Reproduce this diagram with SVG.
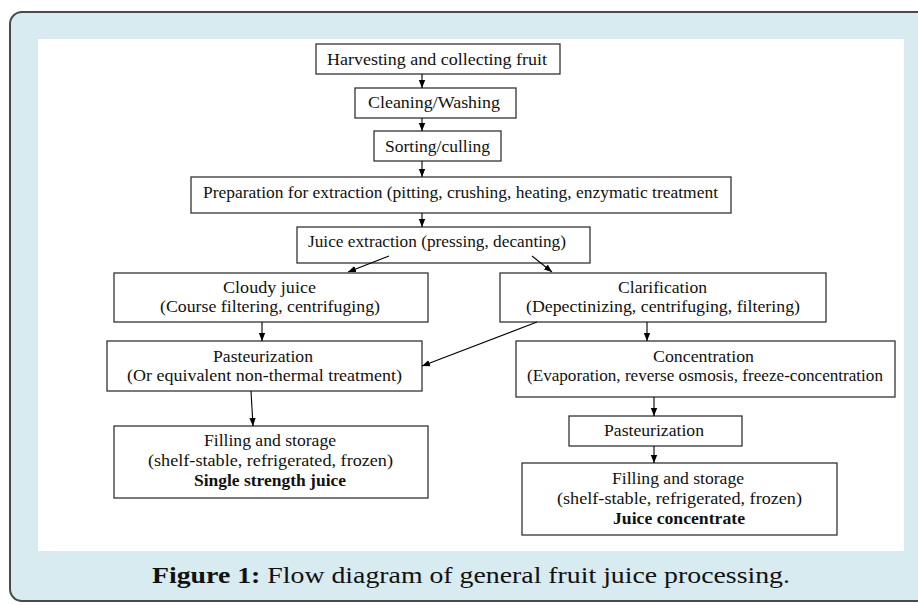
<svg xmlns="http://www.w3.org/2000/svg" width="918" height="605" viewBox="0 0 918 605">
<defs>
<marker id="ah" markerUnits="userSpaceOnUse" markerWidth="8" markerHeight="8" viewBox="0 0 8 8" refX="8" refY="4" orient="auto">
<path d="M0,0.8 L8,4 L0,7.2 Z" fill="#000"/>
</marker>
<style>
.box{fill:#fff;stroke:#333;stroke-width:1.3}
.t{font-family:"Liberation Serif","Times New Roman",serif;font-size:17px;fill:#111;text-anchor:middle}
.s{font-size:16px}
.b{font-weight:bold}
.c{stroke:#000;stroke-width:1.1;fill:none;marker-end:url(#ah)}
.cap{font-family:"Liberation Serif",serif;font-size:23px;fill:#111}
</style>
</defs>
<rect x="0" y="0" width="918" height="605" fill="#fff"/>
<rect x="10" y="12" width="930" height="589" rx="12" fill="#d7ebf1" stroke="#4a4a4a" stroke-width="2"/>
<rect x="38" y="39" width="866" height="512" fill="#fff"/>

<g id="n1"><rect class="box" x="316" y="44" width="244" height="30"/><text class="t" x="437" y="65" textLength="220" lengthAdjust="spacingAndGlyphs">Harvesting and collecting fruit</text></g>
<g id="n2"><rect class="box" x="355" y="88" width="161" height="30"/><text class="t" x="434" y="108" textLength="132" lengthAdjust="spacingAndGlyphs">Cleaning/Washing</text></g>
<g id="n3"><rect class="box" x="374" y="131" width="127" height="30"/><text class="t" x="437.5" y="152" textLength="105" lengthAdjust="spacingAndGlyphs">Sorting/culling</text></g>
<g id="n4"><rect class="box" x="191" y="177" width="540" height="36"/><text class="t" x="460.5" y="198" textLength="515" lengthAdjust="spacingAndGlyphs">Preparation for extraction (pitting, crushing, heating, enzymatic treatment</text></g>
<g id="n5"><rect class="box" x="297" y="227" width="293" height="36"/><text class="t" x="437" y="247" textLength="258" lengthAdjust="spacingAndGlyphs">Juice extraction (pressing, decanting)</text></g>
<g id="n6"><rect class="box" x="114" y="273" width="314" height="49"/><text class="t" x="269.5" y="293" textLength="93" lengthAdjust="spacingAndGlyphs">Cloudy juice</text><text class="t" x="270" y="312" textLength="220" lengthAdjust="spacingAndGlyphs">(Course filtering, centrifuging)</text></g>
<g id="n7"><rect class="box" x="500" y="273" width="326" height="49"/><text class="t" x="662.5" y="293" textLength="89" lengthAdjust="spacingAndGlyphs">Clarification</text><text class="t" x="663" y="312" textLength="274" lengthAdjust="spacingAndGlyphs">(Depectinizing, centrifuging, filtering)</text></g>
<g id="n8"><rect class="box" x="107" y="341" width="315" height="50"/><text class="t" x="263" y="362" textLength="100" lengthAdjust="spacingAndGlyphs">Pasteurization</text><text class="t" x="264.5" y="381" textLength="275" lengthAdjust="spacingAndGlyphs">(Or equivalent non-thermal treatment)</text></g>
<g id="n9"><rect class="box" x="516" y="341" width="379" height="56"/><text class="t" x="703.5" y="362" textLength="101" lengthAdjust="spacingAndGlyphs">Concentration</text><text class="t" x="705" y="381" textLength="356" lengthAdjust="spacingAndGlyphs">(Evaporation, reverse osmosis, freeze-concentration</text></g>
<g id="n10"><rect class="box" x="569" y="416" width="173" height="30"/><text class="t" x="654" y="436" textLength="100" lengthAdjust="spacingAndGlyphs">Pasteurization</text></g>
<g id="n11"><rect class="box" x="114" y="426" width="314" height="72"/><text class="t s" x="270" y="446" textLength="132" lengthAdjust="spacingAndGlyphs">Filling and storage</text><text class="t s" x="270.5" y="466" textLength="245" lengthAdjust="spacingAndGlyphs">(shelf-stable, refrigerated, frozen)</text><text class="t s b" x="270" y="486" textLength="152" lengthAdjust="spacingAndGlyphs">Single strength juice</text></g>
<g id="n12"><rect class="box" x="522" y="463" width="315" height="72"/><text class="t s" x="678" y="484" textLength="132" lengthAdjust="spacingAndGlyphs">Filling and storage</text><text class="t s" x="679.5" y="504" textLength="245" lengthAdjust="spacingAndGlyphs">(shelf-stable, refrigerated, frozen)</text><text class="t s b" x="679" y="524" textLength="132" lengthAdjust="spacingAndGlyphs">Juice concentrate</text></g>

<g id="connectors">
<line class="c" x1="422" y1="74" x2="422" y2="88"/>
<line class="c" x1="422" y1="118" x2="422" y2="131"/>
<line class="c" x1="422" y1="161" x2="422" y2="177"/>
<line class="c" x1="422" y1="213" x2="422" y2="227"/>
<line class="c" x1="389" y1="256" x2="348" y2="272"/>
<line class="c" x1="532" y1="256" x2="552" y2="272"/>
<line class="c" x1="262" y1="322" x2="262" y2="341"/>
<line class="c" x1="537" y1="322" x2="422" y2="366"/>
<line class="c" x1="647" y1="322" x2="647" y2="341"/>
<line class="c" x1="251" y1="391" x2="253" y2="426"/>
<line class="c" x1="654" y1="397" x2="654" y2="416"/>
<line class="c" x1="654" y1="446" x2="654" y2="463"/>
</g>

<text class="cap" x="152" y="583" textLength="638" lengthAdjust="spacingAndGlyphs"><tspan font-weight="bold">Figure 1:</tspan> Flow diagram of general fruit juice processing.</text>
</svg>
